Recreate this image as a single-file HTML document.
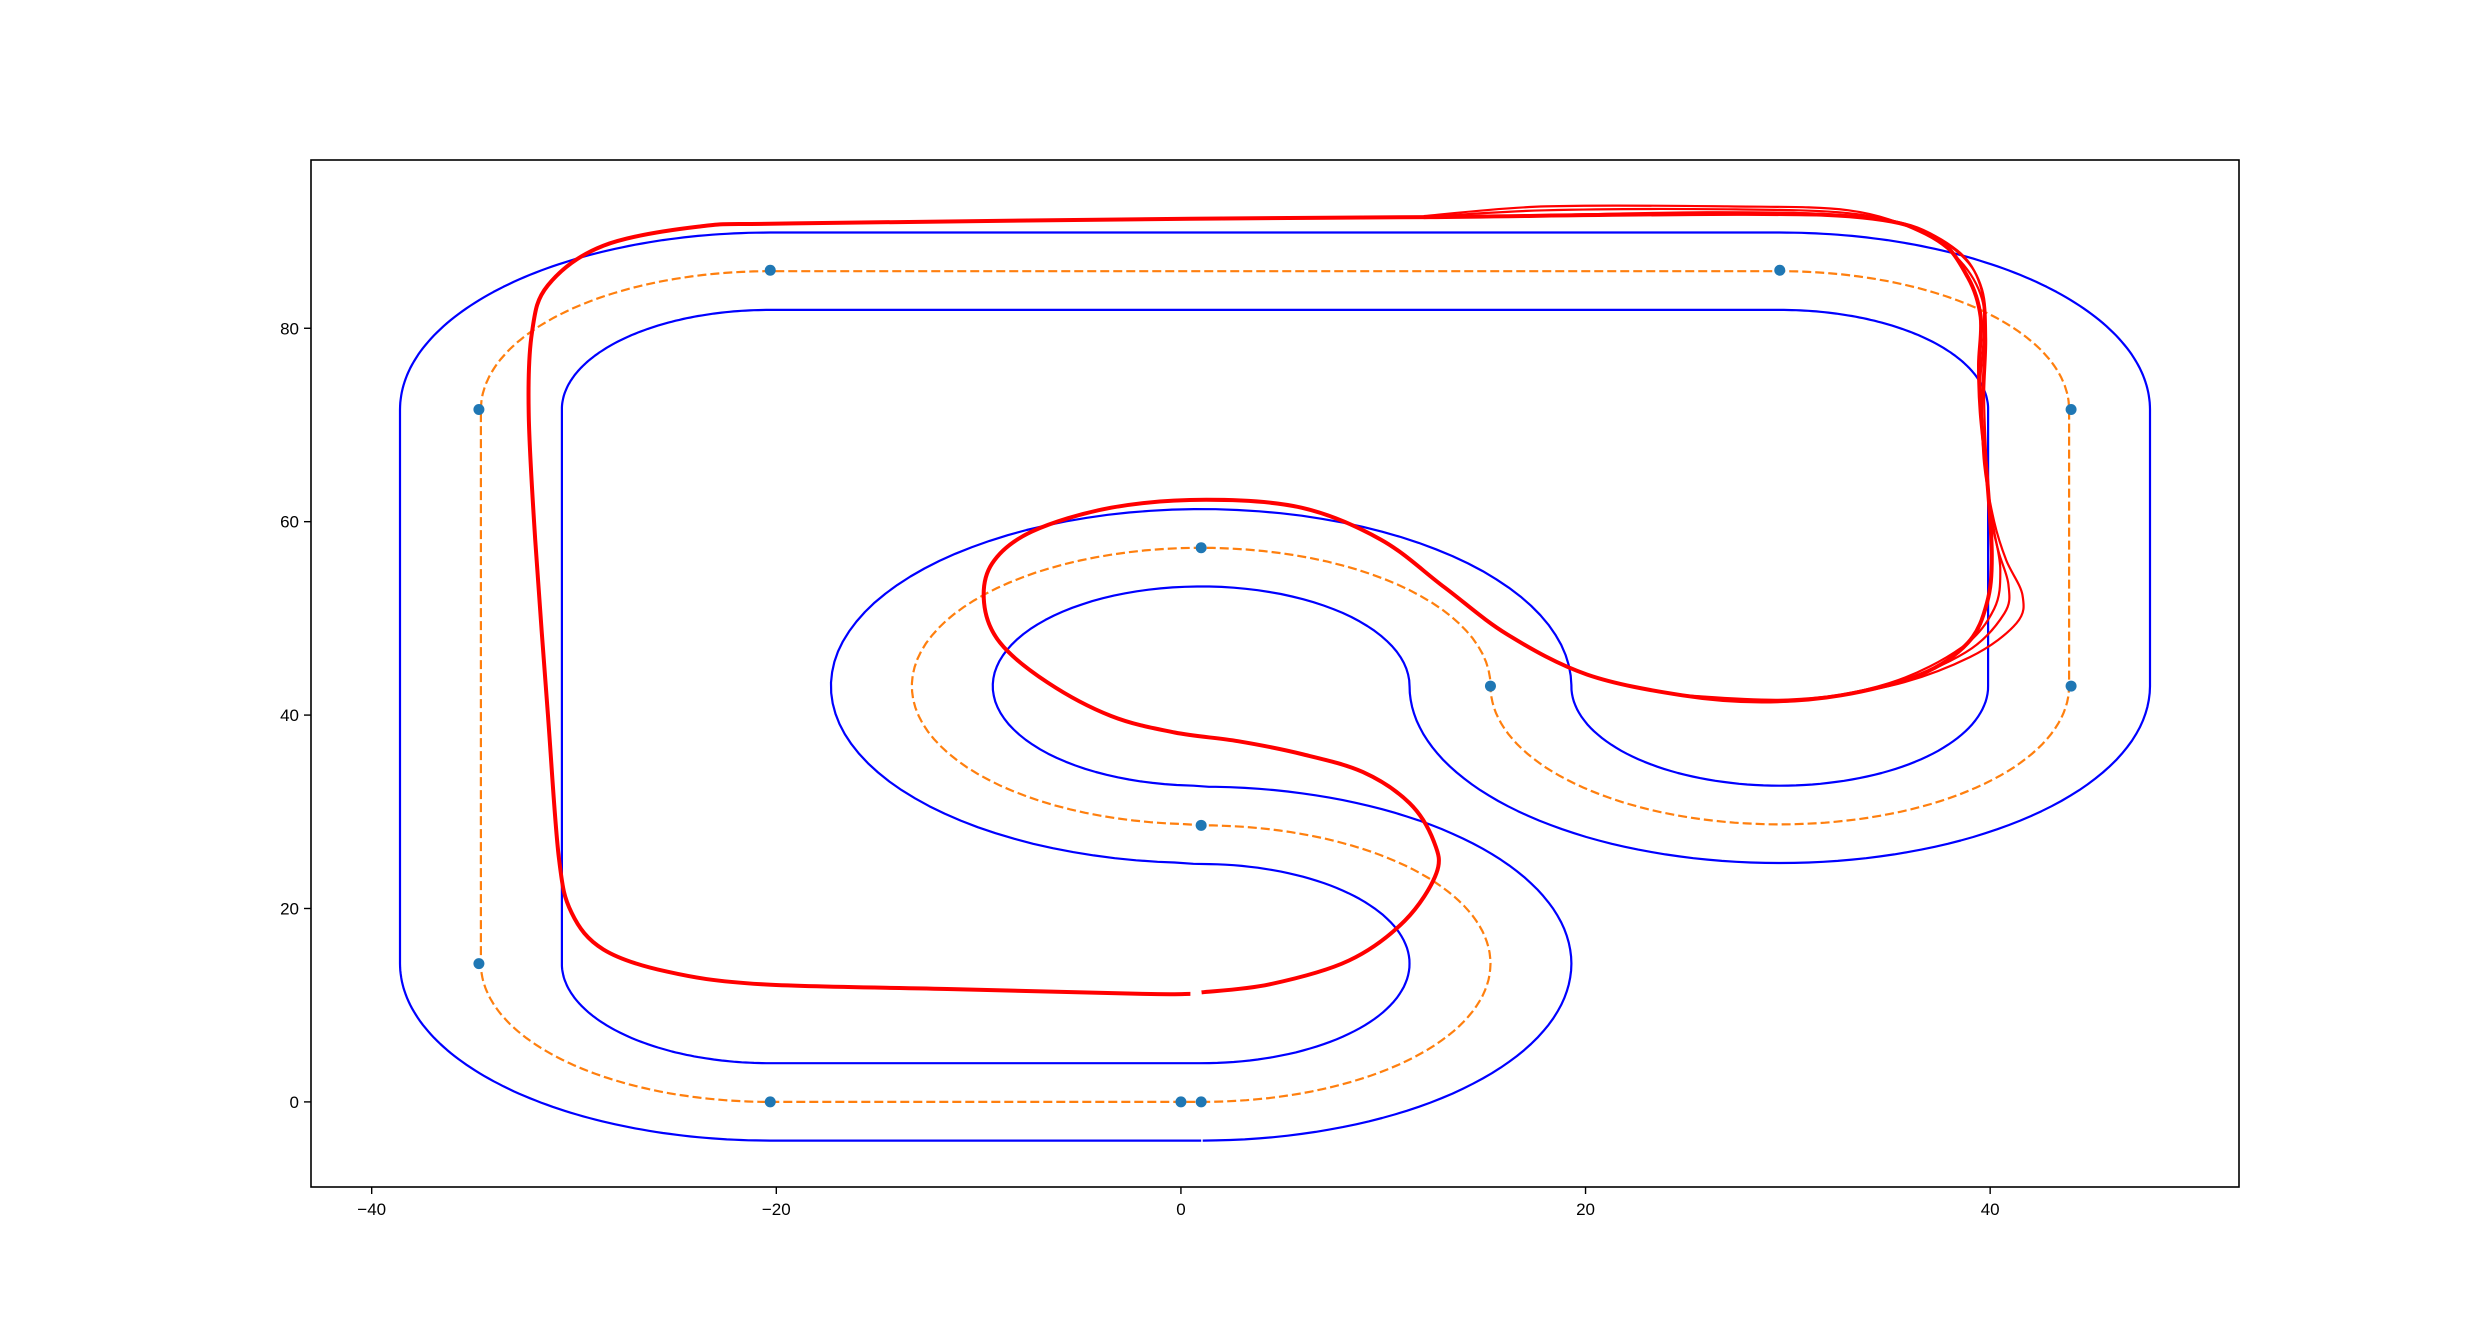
<!DOCTYPE html>
<html><head><meta charset="utf-8"><style>
body{margin:0;background:#fff}
svg{display:block}
text{font-family:"Liberation Sans","DejaVu Sans",sans-serif;font-size:17px;fill:#000}
</style></head><body>
<svg id="chart" width="2488" height="1334" xmlns="http://www.w3.org/2000/svg">
<rect width="2488" height="1334" fill="#fff"/>
<g id="plot"></g>
<g id="axes"></g>
</svg>
<script>
const xTicks=[-40,-20,0,20,40];
const yTicks=[0,20,40,60,80];
const xDomain=[-43,52.3];
const yDomain=[-8.8,97.4];
const trackHalfWidth=4;
const waypoints=[[-20.3,0],[0,0],[1,0],[1,28.6],[1,57.3],[15.3,43],[44,43],[44,71.6],[29.6,86],[-20.3,86],[-34.7,71.6],[-34.7,14.3]];
const centerSegments=[
 ['arc',1,14.3,14.3,-90,90],
 ['arc',1,43,14.3,-90,-360],
 ['arc',29.6,43,14.3,180,360],
 ['line',43.9,43,43.9,71.6],
 ['arc',29.6,71.6,14.3,0,90],
 ['line',29.6,85.9,-20.3,85.9],
 ['arc',-20.3,71.6,14.3,90,180],
 ['line',-34.6,71.6,-34.6,14.3],
 ['arc',-20.3,14.3,14.3,180,270],
 ['line',-20.3,0,1,0]
];
const mainLap=[[1.02,11.33],[4.39,12.16],[8.31,14.62],[11.06,18.73],[12.63,23.65],[12.5,26.94],[11.3,30.9],[9.0,34.1],[5.96,35.98],[2.82,37.3],[-0.31,38.2],[-3.45,39.9],[-6.59,43.37],[-8.94,47.47],[-9.73,51.58],[-9.33,55.69],[-7.37,58.97],[-3.45,61.44],[1.25,62.26],[5.96,61.44],[9.88,58.15],[13.02,53.22],[16.16,48.3],[20.08,44.19],[24.78,42.05],[28.71,41.4],[32.63,42.05],[36.55,44.19],[38.9,47.47],[39.84,51.58],[40.08,56.51],[39.84,64.72],[39.53,71.29],[39.45,76.22],[39.53,81.15],[38.9,85.26],[37.33,89.36],[34.2,91.33],[27.92,91.83],[12.24,91.5],[0.47,91.33],[-19.14,90.84],[-23.84,90.51],[-28.55,88.54],[-31.29,84.44],[-32.08,79.51],[-32.24,71.29],[-31.92,58.15],[-31.29,40.08],[-30.75,25.3],[-30.12,19.55],[-28.55,15.77],[-25.41,13.47],[-20.71,12.16],[-11.29,11.66],[-1.88,11.17],[0.47,11.17]];
const lapVariantA=[[24.78,42.05],[30,41.6],[35,43],[39,46],[41.3,49.5],[41.6,52.4],[40.8,56],[40.2,60],[39.7,66],[39.6,72],[39.7,78],[39.6,83],[38.5,87],[36.5,90],[33,92.2],[27,92.6],[18,92.6],[12,91.6]];
const lapVariantB=[[24.78,42.05],[30,41.5],[35,43.2],[38.8,46.5],[40.7,50.5],[40.9,53.5],[40.4,57],[40,61],[39.8,67],[39.7,73],[39.8,79],[39.6,84],[38.6,87.5],[36.4,90.3],[33,91.9],[27,92.3],[18,92.2],[12,91.5]];
const lapVariantC=[[24.78,42.05],[30,41.4],[35,43.3],[38.6,47],[40.2,51],[40.5,55],[40.2,59],[39.9,63],[39.6,69],[39.5,74],[39.7,80],[39.5,84.5],[38.4,88],[35.8,90.8],[32,91.8],[26,92],[18,91.7],[12,91.4]];

const X0=311,X1=2239,Y0=160,Y1=1187;
const sx=x=>X0+(x-xDomain[0])/(xDomain[1]-xDomain[0])*(X1-X0);
const sy=y=>Y1-(y-yDomain[0])/(yDomain[1]-yDomain[0])*(Y1-Y0);
const NS='http://www.w3.org/2000/svg';
const plot=document.getElementById('plot');
const axes=document.getElementById('axes');
function mk(tag,attrs,parent){const e=document.createElementNS(NS,tag);for(const k in attrs)e.setAttribute(k,attrs[k]);parent.appendChild(e);return e;}

const center=[];
function addPt(p){const l=center[center.length-1];if(!l||Math.hypot(l[0]-p[0],l[1]-p[1])>0.15)center.push(p);}
centerSegments.forEach(s=>{
 if(s[0]==='line'){const n=20;for(let i=0;i<=n;i++){const t=i/n;addPt([s[1]+(s[3]-s[1])*t,s[2]+(s[4]-s[2])*t]);}}
 else{const n=80;for(let i=0;i<=n;i++){const a=(s[4]+(s[5]-s[4])*i/n)*Math.PI/180;addPt([s[1]+s[3]*Math.cos(a),s[2]+s[3]*Math.sin(a)]);}}
});
function offset(pts,d){
 const out=[];const n=pts.length;
 for(let i=0;i<n;i++){const p=pts[Math.max(0,i-1)],q=pts[Math.min(n-1,i+1)];
  let dx=q[0]-p[0],dy=q[1]-p[1];const L=Math.hypot(dx,dy)||1;dx/=L;dy/=L;
  out.push([pts[i][0]-dy*d,pts[i][1]+dx*d]);}
 return out;
}
const poly=pts=>pts.map((p,i)=>(i?'L':'M')+sx(p[0]).toFixed(1)+','+sy(p[1]).toFixed(1)).join('');
function smooth(pts){
 const P=pts.map(p=>[sx(p[0]),sy(p[1])]);let d='M'+P[0][0]+','+P[0][1];
 for(let i=0;i<P.length-1;i++){const p0=P[Math.max(0,i-1)],p1=P[i],p2=P[i+1],p3=P[Math.min(P.length-1,i+2)];
  d+='C'+(p1[0]+(p2[0]-p0[0])/6).toFixed(1)+','+(p1[1]+(p2[1]-p0[1])/6).toFixed(1)+' '+(p2[0]-(p3[0]-p1[0])/6).toFixed(1)+','+(p2[1]-(p3[1]-p1[1])/6).toFixed(1)+' '+p2[0].toFixed(1)+','+p2[1].toFixed(1);}
 return d;
}
let e;
e=mk('path',{d:poly(offset(center,trackHalfWidth)),fill:'none',stroke:'#0000ff','stroke-width':2.2,'stroke-linejoin':'round'},plot);


e=mk('path',{d:poly(offset(center,-trackHalfWidth)),fill:'none',stroke:'#0000ff','stroke-width':2.2,'stroke-linejoin':'round'},plot);


e=mk('path',{d:poly(center),fill:'none',stroke:'#ff7f0e','stroke-width':2.2,'stroke-dasharray':'9,4'},plot);


[lapVariantA,lapVariantB,lapVariantC].forEach(v=>{
 e=mk('path',{d:smooth(v),fill:'none',stroke:'#ff0000','stroke-width':2.2},plot);
 
 
});
e=mk('path',{d:smooth(mainLap),fill:'none',stroke:'#ff0000','stroke-width':4,'stroke-linejoin':'round'},plot);


waypoints.forEach(p=>{
 e=mk('circle',{cx:sx(p[0]),cy:sy(p[1]),r:5.5,fill:'#1f77b4'},plot);
 
 
});
e=mk('rect',{x:X0,y:Y0,width:X1-X0,height:Y1-Y0,fill:'none',stroke:'#000','stroke-width':1.6},axes);


xTicks.forEach(t=>{
 mk('line',{x1:sx(t),x2:sx(t),y1:Y1,y2:Y1+7,stroke:'#000','stroke-width':1.4},axes);
 e=mk('text',{x:sx(t),y:Y1+28,'text-anchor':'middle'},axes);
 e.textContent=t<0?'\u2212'+(-t):String(t);
 
 
});
yTicks.forEach(t=>{
 mk('line',{x1:X0-7,x2:X0,y1:sy(t),y2:sy(t),stroke:'#000','stroke-width':1.4},axes);
 e=mk('text',{x:X0-12,y:sy(t)+6,'text-anchor':'end'},axes);
 e.textContent=String(t);
 
 
});
</script>
</body></html>
